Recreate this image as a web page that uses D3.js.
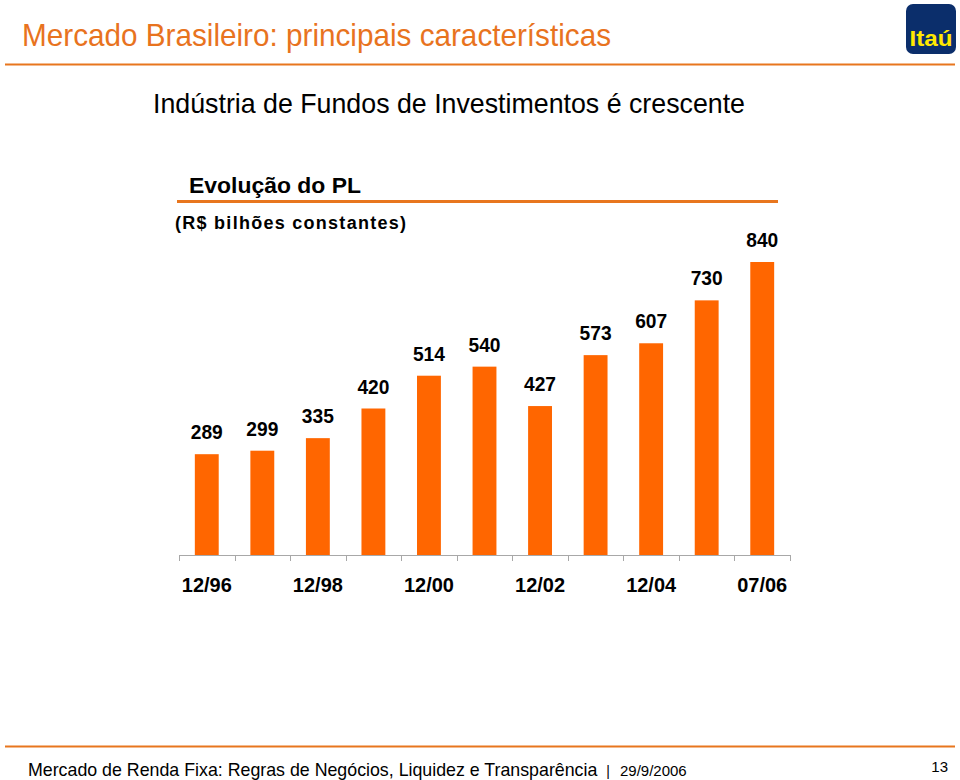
<!DOCTYPE html>
<html><head><meta charset="utf-8">
<script src="https://cdn.jsdelivr.net/npm/d3@7"></script>
<style>html,body{margin:0;padding:0;background:#fff;}svg{display:block;}</style>
</head><body>
<svg id="c" width="960" height="780"></svg>
<script>
const categories = ["12/96","12/97","12/98","12/99","12/00","12/01","12/02","12/03","12/04","12/05","07/06"];
const values = [289, 299, 335, 420, 514, 540, 427, 573, 607, 730, 840];
const tickLabels = ["12/96","12/98","12/00","12/02","12/04","07/06"];

const orange = "#FF6600";
const lineOrange = "#E8761E";
const font = "Arial, 'Liberation Sans', sans-serif";
const svg = d3.select("#c");

// Header
svg.append("text").attr("x", 22).attr("y", 46).attr("font-family", font).attr("font-size", 32)
  .attr("textLength", 589).attr("lengthAdjust", "spacingAndGlyphs")
  .attr("fill", "#E8731E").text("Mercado Brasileiro: principais características");
svg.append("line").attr("x1", 5).attr("x2", 955).attr("y1", 64.5).attr("y2", 64.5)
  .attr("stroke", lineOrange).attr("stroke-width", 2);
// Logo
svg.append("rect").attr("x", 906).attr("y", 4).attr("width", 50).attr("height", 50).attr("rx", 7)
  .attr("fill", "#0B2E6B");
svg.append("text").attr("x", 931).attr("y", 46).attr("text-anchor", "middle").attr("font-family", font)
  .attr("font-weight", "bold").attr("font-size", 22).attr("textLength", 43).attr("lengthAdjust", "spacingAndGlyphs")
  .attr("fill", "#FFE800").text("Itaú");

svg.append("text").attr("x", 153).attr("y", 113).attr("font-family", font).attr("font-size", 28)
  .attr("textLength", 592).attr("lengthAdjust", "spacingAndGlyphs")
  .attr("fill", "#000").text("Indústria de Fundos de Investimentos é crescente");

svg.append("text").attr("x", 189).attr("y", 193).attr("font-family", font).attr("font-size", 21.5)
  .attr("textLength", 172).attr("lengthAdjust", "spacingAndGlyphs")
  .attr("font-weight", "bold").attr("fill", "#000").text("Evolução do PL");
svg.append("line").attr("x1", 177).attr("x2", 778).attr("y1", 201.5).attr("y2", 201.5)
  .attr("stroke", lineOrange).attr("stroke-width", 3);
svg.append("text").attr("x", 175).attr("y", 229).attr("font-family", font).attr("font-size", 18)
  .attr("textLength", 231).attr("lengthAdjust", "spacing")
  .attr("font-weight", "bold").attr("fill", "#000").text("(R$ bilhões constantes)");

// Chart
const x = d3.scaleBand().domain(categories).range([179, 790]).paddingInner(0.57).paddingOuter(0.285);
const y = d3.scaleLinear().domain([0, 840]).range([555, 262]);

svg.selectAll("rect.bar").data(values).join("rect").attr("class", "bar")
  .attr("x", (d, i) => x(categories[i])).attr("width", x.bandwidth())
  .attr("y", d => y(d)).attr("height", d => y(0) - y(d)).attr("fill", orange);

svg.selectAll("text.val").data(values).join("text").attr("class", "val")
  .attr("x", (d, i) => x(categories[i]) + x.bandwidth() / 2).attr("y", d => y(d) - 15)
  .attr("text-anchor", "middle").attr("font-family", font).attr("font-size", 20)
  .attr("textLength", 32).attr("lengthAdjust", "spacingAndGlyphs")
  .attr("font-weight", "bold").attr("fill", "#000").text(d => d);

// Axis line + ticks at band boundaries
const x0 = 179, x1 = 790;
svg.append("line").attr("x1", x0).attr("x2", x1).attr("y1", 555.5).attr("y2", 555.5)
  .attr("stroke", "#A8A8A8").attr("stroke-width", 1);
svg.selectAll("line.tick").data(d3.range(categories.length + 1)).join("line").attr("class", "tick")
  .attr("x1", i => Math.round(x0 + i * (x1 - x0) / categories.length) + 0.5)
  .attr("x2", i => Math.round(x0 + i * (x1 - x0) / categories.length) + 0.5)
  .attr("y1", 555).attr("y2", 561).attr("stroke", "#A8A8A8").attr("stroke-width", 1);

svg.selectAll("text.tl").data(tickLabels).join("text").attr("class", "tl")
  .attr("x", d => x(d) + x.bandwidth() / 2).attr("y", 592)
  .attr("text-anchor", "middle").attr("font-family", font).attr("font-size", 21)
  .attr("textLength", 50).attr("lengthAdjust", "spacingAndGlyphs")
  .attr("font-weight", "bold").attr("fill", "#000").text(d => d);

// Footer
svg.append("line").attr("x1", 5).attr("x2", 955).attr("y1", 746.5).attr("y2", 746.5)
  .attr("stroke", lineOrange).attr("stroke-width", 2);
const ft = svg.append("text").attr("x", 28).attr("y", 776).attr("font-family", font).attr("fill", "#000");
ft.append("tspan").attr("font-size", 17.8).text("Mercado de Renda Fixa: Regras de Negócios, Liquidez e Transparência");
ft.append("tspan").attr("font-size", 14).attr("dx", 9).text("|");
ft.append("tspan").attr("font-size", 15).attr("dx", 10).text("29/9/2006");
svg.append("text").attr("x", 948).attr("y", 772).attr("text-anchor", "end").attr("font-family", font)
  .attr("font-size", 15).attr("fill", "#000").text("13");
</script>
</body></html>
